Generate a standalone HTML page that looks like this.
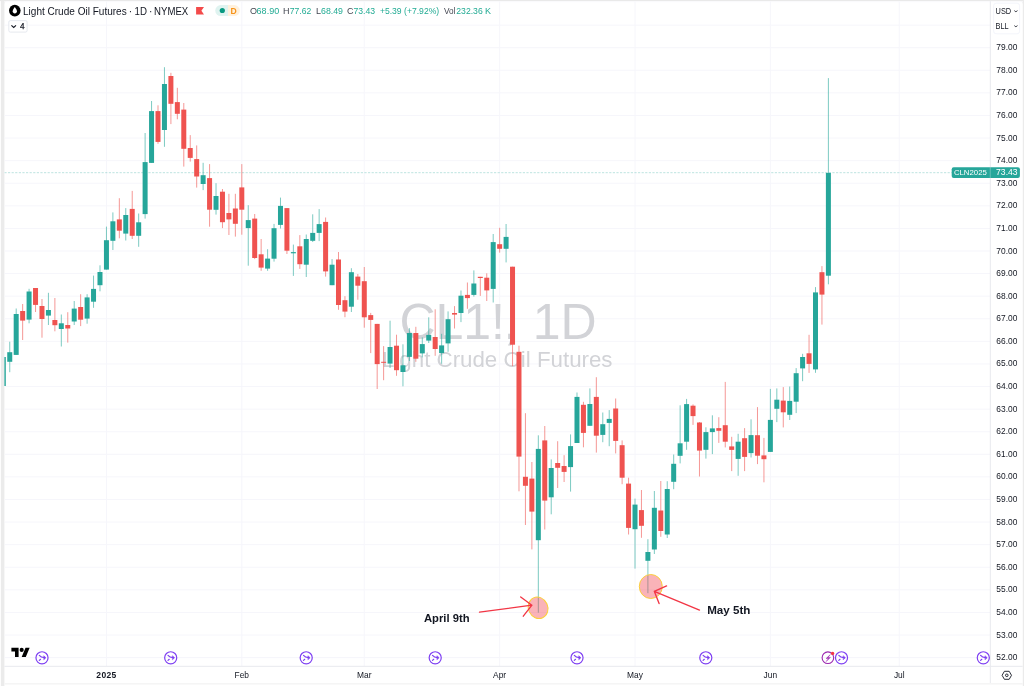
<!DOCTYPE html><html><head><meta charset="utf-8"><title>CL1! Light Crude Oil Futures</title>
<style>html,body{margin:0;padding:0;background:#fff;}body{width:1024px;height:686px;overflow:hidden;}svg{display:block;will-change:transform;}text{font-family:'Liberation Sans', Arial, sans-serif;}</style></head><body>
<svg width="1024" height="686" viewBox="0 0 1024 686">
<rect x="0" y="0" width="1024" height="686" fill="#ffffff"/>
<rect x="0.9" y="0" width="3.5" height="686" fill="#ebebeb"/>
<rect x="0" y="0" width="1024" height="1.1" fill="#e9e9e9"/>
<rect x="1022.8" y="0" width="1.2" height="686" fill="#ebebeb"/>
<rect x="4.4" y="683" width="1018.4" height="1.6" fill="#f5f5f5"/>
<path d="M4.4 1.1 H8 Q4.4 1.1 4.4 4.7 Z" fill="#ebebeb"/>
<path d="M1022.8 1.1 H1019.2 Q1022.8 1.1 1022.8 4.7 Z" fill="#ebebeb"/>
<rect x="4.4" y="1.2" width="1018.4" height="1" fill="#f9f9fc"/>
<defs><clipPath id="pane"><rect x="4.4" y="1.5" width="985.9" height="664.8"/></clipPath></defs>
<g clip-path="url(#pane)">
<rect x="4.4" y="657.1" width="985.9" height="1" fill="#f6f6fb"/>
<rect x="4.4" y="634.51" width="985.9" height="1" fill="#f6f6fb"/>
<rect x="4.4" y="611.92" width="985.9" height="1" fill="#f6f6fb"/>
<rect x="4.4" y="589.34" width="985.9" height="1" fill="#f6f6fb"/>
<rect x="4.4" y="566.75" width="985.9" height="1" fill="#f6f6fb"/>
<rect x="4.4" y="544.16" width="985.9" height="1" fill="#f6f6fb"/>
<rect x="4.4" y="521.57" width="985.9" height="1" fill="#f6f6fb"/>
<rect x="4.4" y="498.98" width="985.9" height="1" fill="#f6f6fb"/>
<rect x="4.4" y="476.39" width="985.9" height="1" fill="#f6f6fb"/>
<rect x="4.4" y="453.8" width="985.9" height="1" fill="#f6f6fb"/>
<rect x="4.4" y="431.21" width="985.9" height="1" fill="#f6f6fb"/>
<rect x="4.4" y="408.62" width="985.9" height="1" fill="#f6f6fb"/>
<rect x="4.4" y="386.03" width="985.9" height="1" fill="#f6f6fb"/>
<rect x="4.4" y="363.45" width="985.9" height="1" fill="#f6f6fb"/>
<rect x="4.4" y="340.86" width="985.9" height="1" fill="#f6f6fb"/>
<rect x="4.4" y="318.27" width="985.9" height="1" fill="#f6f6fb"/>
<rect x="4.4" y="295.68" width="985.9" height="1" fill="#f6f6fb"/>
<rect x="4.4" y="273.09" width="985.9" height="1" fill="#f6f6fb"/>
<rect x="4.4" y="250.5" width="985.9" height="1" fill="#f6f6fb"/>
<rect x="4.4" y="227.91" width="985.9" height="1" fill="#f6f6fb"/>
<rect x="4.4" y="205.32" width="985.9" height="1" fill="#f6f6fb"/>
<rect x="4.4" y="182.73" width="985.9" height="1" fill="#f6f6fb"/>
<rect x="4.4" y="160.14" width="985.9" height="1" fill="#f6f6fb"/>
<rect x="4.4" y="137.56" width="985.9" height="1" fill="#f6f6fb"/>
<rect x="4.4" y="114.97" width="985.9" height="1" fill="#f6f6fb"/>
<rect x="4.4" y="92.38" width="985.9" height="1" fill="#f6f6fb"/>
<rect x="4.4" y="69.79" width="985.9" height="1" fill="#f6f6fb"/>
<rect x="4.4" y="47.2" width="985.9" height="1" fill="#f6f6fb"/>
<rect x="4.4" y="24.61" width="985.9" height="1" fill="#f6f6fb"/>
<rect x="105.94" y="0" width="1" height="666.3" fill="#f6f6fb"/>
<rect x="241.3" y="0" width="1" height="666.3" fill="#f6f6fb"/>
<rect x="363.78" y="0" width="1" height="666.3" fill="#f6f6fb"/>
<rect x="499.14" y="0" width="1" height="666.3" fill="#f6f6fb"/>
<rect x="634.51" y="0" width="1" height="666.3" fill="#f6f6fb"/>
<rect x="769.87" y="0" width="1" height="666.3" fill="#f6f6fb"/>
<rect x="898.79" y="0" width="1" height="666.3" fill="#f6f6fb"/>
<text x="399.4" y="338.7" font-size="50" fill="#d2d3d7">CL1!<tspan dx="-1.6">,</tspan><tspan dx="1.6"> 1D</tspan></text>
<text x="382" y="367.2" font-size="22.3" fill="#d2d3d7">Light Crude Oil Futures</text>
<line x1="4.4" y1="172.7" x2="990.3" y2="172.7" stroke="#26a69a" stroke-width="1" stroke-dasharray="2.2 1.4" opacity="0.3"/>
<rect x="2.8" y="357" width="1" height="29" fill="#26a69a" opacity="0.6"/>
<rect x="0.8" y="357" width="5" height="29" fill="#26a69a"/>
<rect x="9.25" y="341.7" width="1" height="30.5" fill="#26a69a" opacity="0.6"/>
<rect x="7.25" y="352.2" width="5" height="9.6" fill="#26a69a"/>
<rect x="15.69" y="308.5" width="1" height="46.5" fill="#26a69a" opacity="0.6"/>
<rect x="13.69" y="314" width="5" height="40.9" fill="#26a69a"/>
<rect x="22.14" y="304" width="1" height="36" fill="#ef5350" opacity="0.6"/>
<rect x="20.14" y="311" width="5" height="9.6" fill="#ef5350"/>
<rect x="28.58" y="288.8" width="1" height="34.5" fill="#26a69a" opacity="0.6"/>
<rect x="26.58" y="291.5" width="5" height="28.1" fill="#26a69a"/>
<rect x="35.03" y="288" width="1" height="24" fill="#ef5350" opacity="0.6"/>
<rect x="33.03" y="288" width="5" height="16.9" fill="#ef5350"/>
<rect x="41.48" y="299" width="1" height="38.7" fill="#ef5350" opacity="0.6"/>
<rect x="39.48" y="306" width="5" height="13" fill="#ef5350"/>
<rect x="47.92" y="292.8" width="1" height="32.2" fill="#26a69a" opacity="0.6"/>
<rect x="45.92" y="310" width="5" height="5.6" fill="#26a69a"/>
<rect x="54.37" y="298" width="1" height="33.3" fill="#ef5350" opacity="0.6"/>
<rect x="52.37" y="320" width="5" height="5.2" fill="#ef5350"/>
<rect x="60.81" y="314.5" width="1" height="32" fill="#26a69a" opacity="0.6"/>
<rect x="58.81" y="323.3" width="5" height="5.7" fill="#26a69a"/>
<rect x="67.26" y="312.2" width="1" height="30.4" fill="#ef5350" opacity="0.6"/>
<rect x="65.26" y="325" width="5" height="3.5" fill="#ef5350"/>
<rect x="73.71" y="301" width="1" height="24" fill="#26a69a" opacity="0.6"/>
<rect x="71.71" y="308.6" width="5" height="12.9" fill="#26a69a"/>
<rect x="80.15" y="294.2" width="1" height="31.9" fill="#ef5350" opacity="0.6"/>
<rect x="78.15" y="307" width="5" height="12.7" fill="#ef5350"/>
<rect x="86.6" y="294.2" width="1" height="29.5" fill="#26a69a" opacity="0.6"/>
<rect x="84.6" y="297.4" width="5" height="21.2" fill="#26a69a"/>
<rect x="93.04" y="275.6" width="1" height="32.2" fill="#26a69a" opacity="0.6"/>
<rect x="91.04" y="288.9" width="5" height="12.8" fill="#26a69a"/>
<rect x="99.49" y="265.3" width="1" height="26" fill="#26a69a" opacity="0.6"/>
<rect x="97.49" y="272" width="5" height="13.2" fill="#26a69a"/>
<rect x="105.94" y="226.6" width="1" height="43" fill="#26a69a" opacity="0.6"/>
<rect x="103.94" y="240.2" width="5" height="29.4" fill="#26a69a"/>
<rect x="112.38" y="212.4" width="1" height="37.6" fill="#26a69a" opacity="0.6"/>
<rect x="110.38" y="221.3" width="5" height="19.5" fill="#26a69a"/>
<rect x="118.83" y="198.2" width="1" height="40.1" fill="#ef5350" opacity="0.6"/>
<rect x="116.83" y="219.4" width="5" height="11.3" fill="#ef5350"/>
<rect x="125.27" y="208.1" width="1" height="32.4" fill="#26a69a" opacity="0.6"/>
<rect x="123.27" y="215" width="5" height="18.6" fill="#26a69a"/>
<rect x="131.72" y="190.9" width="1" height="48.1" fill="#ef5350" opacity="0.6"/>
<rect x="129.72" y="208.9" width="5" height="26.9" fill="#ef5350"/>
<rect x="138.17" y="213.5" width="1" height="33.3" fill="#26a69a" opacity="0.6"/>
<rect x="136.17" y="222.3" width="5" height="13.5" fill="#26a69a"/>
<rect x="144.61" y="133" width="1" height="85.6" fill="#26a69a" opacity="0.6"/>
<rect x="142.61" y="162.1" width="5" height="52" fill="#26a69a"/>
<rect x="151.06" y="101" width="1" height="61.9" fill="#26a69a" opacity="0.6"/>
<rect x="149.06" y="111.1" width="5" height="51.8" fill="#26a69a"/>
<rect x="157.5" y="105.3" width="1" height="38.5" fill="#ef5350" opacity="0.6"/>
<rect x="155.5" y="111.1" width="5" height="30.8" fill="#ef5350"/>
<rect x="163.95" y="67.2" width="1" height="79.6" fill="#26a69a" opacity="0.6"/>
<rect x="161.95" y="84" width="5" height="46" fill="#26a69a"/>
<rect x="170.4" y="72.8" width="1" height="51.3" fill="#ef5350" opacity="0.6"/>
<rect x="168.4" y="76" width="5" height="27.8" fill="#ef5350"/>
<rect x="176.84" y="87.8" width="1" height="31.5" fill="#ef5350" opacity="0.6"/>
<rect x="174.84" y="102.1" width="5" height="11.7" fill="#ef5350"/>
<rect x="183.29" y="103" width="1" height="63.6" fill="#ef5350" opacity="0.6"/>
<rect x="181.29" y="109.6" width="5" height="39.2" fill="#ef5350"/>
<rect x="189.73" y="135.1" width="1" height="26.5" fill="#ef5350" opacity="0.6"/>
<rect x="187.73" y="148" width="5" height="9.9" fill="#ef5350"/>
<rect x="196.18" y="145.4" width="1" height="42.2" fill="#ef5350" opacity="0.6"/>
<rect x="194.18" y="159.1" width="5" height="17.4" fill="#ef5350"/>
<rect x="202.63" y="162.8" width="1" height="27.3" fill="#26a69a" opacity="0.6"/>
<rect x="200.63" y="175.2" width="5" height="8.8" fill="#26a69a"/>
<rect x="209.07" y="164.1" width="1" height="62.6" fill="#ef5350" opacity="0.6"/>
<rect x="207.07" y="178.1" width="5" height="31.6" fill="#ef5350"/>
<rect x="215.52" y="183.2" width="1" height="31.4" fill="#26a69a" opacity="0.6"/>
<rect x="213.52" y="196" width="5" height="13.8" fill="#26a69a"/>
<rect x="221.96" y="189" width="1" height="39.1" fill="#ef5350" opacity="0.6"/>
<rect x="219.96" y="191.7" width="5" height="30.5" fill="#ef5350"/>
<rect x="228.41" y="193.8" width="1" height="41.2" fill="#ef5350" opacity="0.6"/>
<rect x="226.41" y="213" width="5" height="6.4" fill="#ef5350"/>
<rect x="234.86" y="193.8" width="1" height="42.8" fill="#ef5350" opacity="0.6"/>
<rect x="232.86" y="208.5" width="5" height="15.3" fill="#ef5350"/>
<rect x="241.3" y="164.1" width="1" height="70.6" fill="#ef5350" opacity="0.6"/>
<rect x="239.3" y="187.4" width="5" height="22.3" fill="#ef5350"/>
<rect x="247.75" y="205.2" width="1" height="60.5" fill="#26a69a" opacity="0.6"/>
<rect x="245.75" y="220.1" width="5" height="8" fill="#26a69a"/>
<rect x="254.19" y="214" width="1" height="45.1" fill="#ef5350" opacity="0.6"/>
<rect x="252.19" y="218.6" width="5" height="39.4" fill="#ef5350"/>
<rect x="260.64" y="239" width="1" height="31.8" fill="#ef5350" opacity="0.6"/>
<rect x="258.64" y="254.3" width="5" height="13.3" fill="#ef5350"/>
<rect x="267.09" y="249.2" width="1" height="21.6" fill="#26a69a" opacity="0.6"/>
<rect x="265.09" y="258.6" width="5" height="10" fill="#26a69a"/>
<rect x="273.53" y="223.9" width="1" height="37.7" fill="#26a69a" opacity="0.6"/>
<rect x="271.53" y="228.2" width="5" height="30.5" fill="#26a69a"/>
<rect x="279.98" y="197.6" width="1" height="30.9" fill="#26a69a" opacity="0.6"/>
<rect x="277.98" y="205.9" width="5" height="19" fill="#26a69a"/>
<rect x="286.42" y="208.1" width="1" height="45.9" fill="#ef5350" opacity="0.6"/>
<rect x="284.42" y="208.1" width="5" height="42.6" fill="#ef5350"/>
<rect x="292.87" y="244.6" width="1" height="31.3" fill="#26a69a" opacity="0.6"/>
<rect x="290.87" y="252.1" width="5" height="1.2" fill="#26a69a"/>
<rect x="299.32" y="235.1" width="1" height="33.8" fill="#ef5350" opacity="0.6"/>
<rect x="297.32" y="246.3" width="5" height="17.9" fill="#ef5350"/>
<rect x="305.76" y="234.5" width="1" height="42.5" fill="#26a69a" opacity="0.6"/>
<rect x="303.76" y="239" width="5" height="25.7" fill="#26a69a"/>
<rect x="312.21" y="214.3" width="1" height="27.7" fill="#26a69a" opacity="0.6"/>
<rect x="310.21" y="232.9" width="5" height="7.9" fill="#26a69a"/>
<rect x="318.65" y="209.1" width="1" height="32" fill="#26a69a" opacity="0.6"/>
<rect x="316.65" y="224.1" width="5" height="8.8" fill="#26a69a"/>
<rect x="325.1" y="217.5" width="1" height="59.1" fill="#ef5350" opacity="0.6"/>
<rect x="323.1" y="221.9" width="5" height="49.5" fill="#ef5350"/>
<rect x="331.55" y="259.1" width="1" height="26.1" fill="#26a69a" opacity="0.6"/>
<rect x="329.55" y="264.7" width="5" height="20.5" fill="#26a69a"/>
<rect x="337.99" y="252" width="1" height="57.8" fill="#ef5350" opacity="0.6"/>
<rect x="335.99" y="259.5" width="5" height="45.5" fill="#ef5350"/>
<rect x="344.44" y="296.2" width="1" height="21" fill="#ef5350" opacity="0.6"/>
<rect x="342.44" y="300.2" width="5" height="11.4" fill="#ef5350"/>
<rect x="350.88" y="268.2" width="1" height="43.8" fill="#26a69a" opacity="0.6"/>
<rect x="348.88" y="272.2" width="5" height="34.5" fill="#26a69a"/>
<rect x="357.33" y="274" width="1" height="25.7" fill="#ef5350" opacity="0.6"/>
<rect x="355.33" y="276.6" width="5" height="9.1" fill="#ef5350"/>
<rect x="363.78" y="267" width="1" height="60.7" fill="#ef5350" opacity="0.6"/>
<rect x="361.78" y="281.2" width="5" height="36.1" fill="#ef5350"/>
<rect x="370.22" y="312.9" width="1" height="40.2" fill="#ef5350" opacity="0.6"/>
<rect x="368.22" y="315.1" width="5" height="4.8" fill="#ef5350"/>
<rect x="376.67" y="323.9" width="1" height="65.1" fill="#ef5350" opacity="0.6"/>
<rect x="374.67" y="323.9" width="5" height="40.2" fill="#ef5350"/>
<rect x="383.11" y="346.1" width="1" height="34.1" fill="#ef5350" opacity="0.6"/>
<rect x="381.11" y="361.8" width="5" height="1" fill="#ef5350"/>
<rect x="389.56" y="320.7" width="1" height="47.3" fill="#26a69a" opacity="0.6"/>
<rect x="387.56" y="347" width="5" height="16.6" fill="#26a69a"/>
<rect x="396.01" y="334.7" width="1" height="41.1" fill="#ef5350" opacity="0.6"/>
<rect x="394.01" y="345.7" width="5" height="24.5" fill="#ef5350"/>
<rect x="402.45" y="344.3" width="1" height="42" fill="#26a69a" opacity="0.6"/>
<rect x="400.45" y="365.3" width="5" height="6.7" fill="#26a69a"/>
<rect x="408.9" y="328.2" width="1" height="32.8" fill="#26a69a" opacity="0.6"/>
<rect x="406.9" y="333" width="5" height="23.9" fill="#26a69a"/>
<rect x="415.34" y="326.8" width="1" height="35" fill="#ef5350" opacity="0.6"/>
<rect x="413.34" y="333" width="5" height="25.7" fill="#ef5350"/>
<rect x="421.79" y="337.4" width="1" height="20" fill="#26a69a" opacity="0.6"/>
<rect x="419.79" y="344.1" width="5" height="9.3" fill="#26a69a"/>
<rect x="428.24" y="317.3" width="1" height="25.7" fill="#26a69a" opacity="0.6"/>
<rect x="426.24" y="334.9" width="5" height="5.7" fill="#26a69a"/>
<rect x="434.68" y="309.3" width="1" height="46.5" fill="#ef5350" opacity="0.6"/>
<rect x="432.68" y="337" width="5" height="12" fill="#ef5350"/>
<rect x="441.13" y="333.8" width="1" height="30" fill="#26a69a" opacity="0.6"/>
<rect x="439.13" y="345.4" width="5" height="7.7" fill="#26a69a"/>
<rect x="447.57" y="311.4" width="1" height="40.4" fill="#26a69a" opacity="0.6"/>
<rect x="445.57" y="319.2" width="5" height="24.2" fill="#26a69a"/>
<rect x="454.02" y="306.1" width="1" height="22.4" fill="#ef5350" opacity="0.6"/>
<rect x="452.02" y="313" width="5" height="1.6" fill="#ef5350"/>
<rect x="460.47" y="290.5" width="1" height="31.6" fill="#26a69a" opacity="0.6"/>
<rect x="458.47" y="295.7" width="5" height="17.3" fill="#26a69a"/>
<rect x="466.91" y="282.5" width="1" height="26.3" fill="#ef5350" opacity="0.6"/>
<rect x="464.91" y="294.9" width="5" height="3.2" fill="#ef5350"/>
<rect x="473.36" y="270.4" width="1" height="26.2" fill="#26a69a" opacity="0.6"/>
<rect x="471.36" y="283.5" width="5" height="11.4" fill="#26a69a"/>
<rect x="479.8" y="276.8" width="1" height="19.1" fill="#ef5350" opacity="0.6"/>
<rect x="477.8" y="276.8" width="5" height="1.2" fill="#ef5350"/>
<rect x="486.25" y="273.3" width="1" height="27.7" fill="#ef5350" opacity="0.6"/>
<rect x="484.25" y="277.7" width="5" height="12.7" fill="#ef5350"/>
<rect x="492.7" y="234" width="1" height="68.5" fill="#26a69a" opacity="0.6"/>
<rect x="490.7" y="242.1" width="5" height="46.8" fill="#26a69a"/>
<rect x="499.14" y="227.8" width="1" height="24.8" fill="#ef5350" opacity="0.6"/>
<rect x="497.14" y="244.2" width="5" height="4.6" fill="#ef5350"/>
<rect x="505.59" y="224" width="1" height="38.4" fill="#26a69a" opacity="0.6"/>
<rect x="503.59" y="236.9" width="5" height="11.9" fill="#26a69a"/>
<rect x="512.03" y="266.7" width="1" height="99.4" fill="#ef5350" opacity="0.6"/>
<rect x="510.03" y="266.7" width="5" height="78" fill="#ef5350"/>
<rect x="518.48" y="345.7" width="1" height="145.6" fill="#ef5350" opacity="0.6"/>
<rect x="516.48" y="351.8" width="5" height="104.8" fill="#ef5350"/>
<rect x="524.93" y="413.2" width="1" height="111.8" fill="#ef5350" opacity="0.6"/>
<rect x="522.93" y="476.8" width="5" height="9" fill="#ef5350"/>
<rect x="531.37" y="462" width="1" height="87.4" fill="#ef5350" opacity="0.6"/>
<rect x="529.37" y="478.6" width="5" height="33" fill="#ef5350"/>
<rect x="537.82" y="435.3" width="1" height="177.4" fill="#26a69a" opacity="0.6"/>
<rect x="535.82" y="448.9" width="5" height="91.3" fill="#26a69a"/>
<rect x="544.26" y="426" width="1" height="103.5" fill="#ef5350" opacity="0.6"/>
<rect x="542.26" y="440.4" width="5" height="60.2" fill="#ef5350"/>
<rect x="550.71" y="459.4" width="1" height="54.9" fill="#26a69a" opacity="0.6"/>
<rect x="548.71" y="468" width="5" height="29.3" fill="#26a69a"/>
<rect x="557.16" y="441.2" width="1" height="46.8" fill="#ef5350" opacity="0.6"/>
<rect x="555.16" y="463" width="5" height="4.8" fill="#ef5350"/>
<rect x="563.6" y="455.2" width="1" height="26.8" fill="#ef5350" opacity="0.6"/>
<rect x="561.6" y="466" width="5" height="5.9" fill="#ef5350"/>
<rect x="570.05" y="434.4" width="1" height="57.2" fill="#26a69a" opacity="0.6"/>
<rect x="568.05" y="446.1" width="5" height="21" fill="#26a69a"/>
<rect x="576.49" y="392.5" width="1" height="50.5" fill="#26a69a" opacity="0.6"/>
<rect x="574.49" y="396.9" width="5" height="46.1" fill="#26a69a"/>
<rect x="582.94" y="401.8" width="1" height="45.5" fill="#ef5350" opacity="0.6"/>
<rect x="580.94" y="404.8" width="5" height="28.1" fill="#ef5350"/>
<rect x="589.39" y="388.4" width="1" height="37.4" fill="#26a69a" opacity="0.6"/>
<rect x="587.39" y="404" width="5" height="21.8" fill="#26a69a"/>
<rect x="595.83" y="377.2" width="1" height="75.4" fill="#ef5350" opacity="0.6"/>
<rect x="593.83" y="396.9" width="5" height="38.8" fill="#ef5350"/>
<rect x="602.28" y="412.5" width="1" height="29.7" fill="#26a69a" opacity="0.6"/>
<rect x="600.28" y="424.2" width="5" height="10.7" fill="#26a69a"/>
<rect x="608.72" y="410.1" width="1" height="36.1" fill="#26a69a" opacity="0.6"/>
<rect x="606.72" y="418.9" width="5" height="4" fill="#26a69a"/>
<rect x="615.17" y="398.5" width="1" height="54.9" fill="#ef5350" opacity="0.6"/>
<rect x="613.17" y="408.5" width="5" height="32.4" fill="#ef5350"/>
<rect x="621.62" y="440.4" width="1" height="43.8" fill="#ef5350" opacity="0.6"/>
<rect x="619.62" y="445.2" width="5" height="32.5" fill="#ef5350"/>
<rect x="628.06" y="477.7" width="1" height="56.8" fill="#ef5350" opacity="0.6"/>
<rect x="626.06" y="483.6" width="5" height="44.3" fill="#ef5350"/>
<rect x="634.51" y="498.6" width="1" height="70" fill="#26a69a" opacity="0.6"/>
<rect x="632.51" y="504.6" width="5" height="24.6" fill="#26a69a"/>
<rect x="640.95" y="490" width="1" height="47.8" fill="#ef5350" opacity="0.6"/>
<rect x="638.95" y="510.1" width="5" height="15.7" fill="#ef5350"/>
<rect x="647.4" y="539.2" width="1" height="54" fill="#26a69a" opacity="0.6"/>
<rect x="645.4" y="552" width="5" height="8.8" fill="#26a69a"/>
<rect x="653.85" y="491" width="1" height="63" fill="#26a69a" opacity="0.6"/>
<rect x="651.85" y="507.8" width="5" height="41.7" fill="#26a69a"/>
<rect x="660.29" y="481" width="1" height="55.8" fill="#ef5350" opacity="0.6"/>
<rect x="658.29" y="510.5" width="5" height="20.5" fill="#ef5350"/>
<rect x="666.74" y="481.2" width="1" height="56.8" fill="#26a69a" opacity="0.6"/>
<rect x="664.74" y="489" width="5" height="45.5" fill="#26a69a"/>
<rect x="673.18" y="454.5" width="1" height="34.7" fill="#26a69a" opacity="0.6"/>
<rect x="671.18" y="463.8" width="5" height="18" fill="#26a69a"/>
<rect x="679.63" y="405.3" width="1" height="58.1" fill="#26a69a" opacity="0.6"/>
<rect x="677.63" y="443.3" width="5" height="12.5" fill="#26a69a"/>
<rect x="686.08" y="398.9" width="1" height="50.9" fill="#26a69a" opacity="0.6"/>
<rect x="684.08" y="404.1" width="5" height="37.6" fill="#26a69a"/>
<rect x="692.52" y="404.4" width="1" height="20.5" fill="#ef5350" opacity="0.6"/>
<rect x="690.52" y="405.7" width="5" height="10.4" fill="#ef5350"/>
<rect x="698.97" y="422" width="1" height="54.5" fill="#ef5350" opacity="0.6"/>
<rect x="696.97" y="422.5" width="5" height="28.1" fill="#ef5350"/>
<rect x="705.41" y="427.3" width="1" height="31.3" fill="#26a69a" opacity="0.6"/>
<rect x="703.41" y="432.1" width="5" height="17.7" fill="#26a69a"/>
<rect x="711.86" y="415.3" width="1" height="38.8" fill="#26a69a" opacity="0.6"/>
<rect x="709.86" y="428.4" width="5" height="3.7" fill="#26a69a"/>
<rect x="718.31" y="417.2" width="1" height="25.7" fill="#ef5350" opacity="0.6"/>
<rect x="716.31" y="428.1" width="5" height="2.7" fill="#ef5350"/>
<rect x="724.75" y="381.9" width="1" height="65.5" fill="#ef5350" opacity="0.6"/>
<rect x="722.75" y="425.2" width="5" height="16.5" fill="#ef5350"/>
<rect x="731.2" y="436.8" width="1" height="34.3" fill="#ef5350" opacity="0.6"/>
<rect x="729.2" y="446.4" width="5" height="3.5" fill="#ef5350"/>
<rect x="737.64" y="433.8" width="1" height="42" fill="#26a69a" opacity="0.6"/>
<rect x="735.64" y="441.7" width="5" height="17.2" fill="#26a69a"/>
<rect x="744.09" y="428.1" width="1" height="43" fill="#ef5350" opacity="0.6"/>
<rect x="742.09" y="438.2" width="5" height="18.7" fill="#ef5350"/>
<rect x="750.54" y="419.3" width="1" height="38.2" fill="#26a69a" opacity="0.6"/>
<rect x="748.54" y="435.1" width="5" height="18" fill="#26a69a"/>
<rect x="756.98" y="407.1" width="1" height="57" fill="#ef5350" opacity="0.6"/>
<rect x="754.98" y="435.2" width="5" height="20.5" fill="#ef5350"/>
<rect x="763.43" y="437.9" width="1" height="44.4" fill="#ef5350" opacity="0.6"/>
<rect x="761.43" y="455.4" width="5" height="3.8" fill="#ef5350"/>
<rect x="769.87" y="388.9" width="1" height="63" fill="#26a69a" opacity="0.6"/>
<rect x="767.87" y="419.9" width="5" height="32" fill="#26a69a"/>
<rect x="776.32" y="388.4" width="1" height="33.7" fill="#26a69a" opacity="0.6"/>
<rect x="774.32" y="399.7" width="5" height="9.1" fill="#26a69a"/>
<rect x="782.77" y="387.1" width="1" height="40.3" fill="#ef5350" opacity="0.6"/>
<rect x="780.77" y="400.6" width="5" height="11.7" fill="#ef5350"/>
<rect x="789.21" y="386.5" width="1" height="33.5" fill="#26a69a" opacity="0.6"/>
<rect x="787.21" y="400.9" width="5" height="13.9" fill="#26a69a"/>
<rect x="795.66" y="368.1" width="1" height="45" fill="#26a69a" opacity="0.6"/>
<rect x="793.66" y="373.2" width="5" height="28.5" fill="#26a69a"/>
<rect x="802.1" y="353.8" width="1" height="27.4" fill="#26a69a" opacity="0.6"/>
<rect x="800.1" y="357" width="5" height="11.4" fill="#26a69a"/>
<rect x="808.55" y="334.8" width="1" height="38.1" fill="#ef5350" opacity="0.6"/>
<rect x="806.55" y="353.3" width="5" height="10.6" fill="#ef5350"/>
<rect x="815" y="287.1" width="1" height="85.7" fill="#26a69a" opacity="0.6"/>
<rect x="813" y="292.4" width="5" height="77" fill="#26a69a"/>
<rect x="821.44" y="266.1" width="1" height="58.5" fill="#ef5350" opacity="0.6"/>
<rect x="819.44" y="272.2" width="5" height="22.4" fill="#ef5350"/>
<rect x="827.89" y="78.1" width="1" height="206.2" fill="#26a69a" opacity="0.6"/>
<rect x="825.89" y="172.9" width="5" height="102.8" fill="#26a69a"/>
</g>
<ellipse transform="rotate(-25 538.1 607.8)" cx="538.1" cy="607.8" rx="9.7" ry="10.9" fill="#f23645" fill-opacity="0.38" stroke="#fbcf3a" stroke-width="1"/>
<path d="M479.5 612.1 L531.9 605.2 M520.7 597 L531.9 605.2 L523.3 616.2" fill="none" stroke="#f23645" stroke-width="1.35" stroke-linecap="round" stroke-linejoin="round"/>
<text x="424.0" y="622.2" font-size="11.3" font-weight="bold" fill="#131722" textLength="45.6" lengthAdjust="spacingAndGlyphs">April 9th</text>
<ellipse cx="650.8" cy="586.5" rx="11.5" ry="12" fill="#f23645" fill-opacity="0.38" stroke="#fbcf3a" stroke-width="1"/>
<path d="M699.5 610.1 L654.3 591.3 M666.6 585.9 L654.3 591.3 L659.1 603.6" fill="none" stroke="#f23645" stroke-width="1.35" stroke-linecap="round" stroke-linejoin="round"/>
<text x="707.2" y="614.3" font-size="11.1" font-weight="bold" fill="#131722" textLength="43.2" lengthAdjust="spacingAndGlyphs">May 5th</text>
<circle cx="14.8" cy="10.6" r="5.8" fill="#000"/>
<path d="M14.8 6.9 C13.6 8.6 12.7 9.9 12.7 11.3 C12.7 12.6 13.6 13.5 14.8 13.5 C16 13.5 16.9 12.6 16.9 11.3 C16.9 9.9 16 8.6 14.8 6.9 Z" fill="#fff"/>
<text y="15" font-size="10.2" fill="#131722"><tspan x="23" textLength="103.7" lengthAdjust="spacingAndGlyphs">Light Crude Oil Futures</tspan><tspan x="128.7">·</tspan><tspan x="134.6" textLength="12.4" lengthAdjust="spacingAndGlyphs">1D</tspan><tspan x="149.1">·</tspan><tspan x="154.1" textLength="34.1" lengthAdjust="spacingAndGlyphs">NYMEX</tspan></text>
<path d="M196.1 7 H204 L201.4 10.7 L204 14.4 H196.1 Z" fill="#f34a4a"/>
<path d="M220.8 5 H228 V16.1 H220.8 A5.55 5.55 0 0 1 220.8 5 Z" fill="#dff3f0"/>
<path d="M228 5 H234.3 A5.55 5.55 0 0 1 234.3 16.1 H228 Z" fill="#fff1dd"/>
<circle cx="222.3" cy="10.5" r="2.6" fill="#089981"/>
<text x="230.6" y="13.8" font-size="8.6" font-weight="bold" fill="#f7931a">D</text>
<text x="249.9" y="14.1" font-size="9" fill="#434651">O</text>
<text x="256.6" y="14.1" font-size="9" fill="#22ab94" textLength="22.6" lengthAdjust="spacingAndGlyphs">68.90</text>
<text x="283" y="14.1" font-size="9" fill="#434651">H</text>
<text x="289.8" y="14.1" font-size="9" fill="#22ab94" textLength="21.5" lengthAdjust="spacingAndGlyphs">77.62</text>
<text x="316.1" y="14.1" font-size="9" fill="#434651">L</text>
<text x="321" y="14.1" font-size="9" fill="#22ab94" textLength="22" lengthAdjust="spacingAndGlyphs">68.49</text>
<text x="347" y="14.1" font-size="9" fill="#434651">C</text>
<text x="353.4" y="14.1" font-size="9" fill="#22ab94" textLength="21.7" lengthAdjust="spacingAndGlyphs">73.43</text>
<text x="379.9" y="14.1" font-size="9" fill="#22ab94" textLength="59.3" lengthAdjust="spacingAndGlyphs">+5.39 (+7.92%)</text>
<text x="443.9" y="14.1" font-size="9" fill="#434651" textLength="11.4" lengthAdjust="spacingAndGlyphs">Vol</text>
<text x="456.3" y="14.1" font-size="9" fill="#22ab94" textLength="26.4" lengthAdjust="spacingAndGlyphs">232.36</text>
<text x="484.9" y="14.1" font-size="9" fill="#22ab94">K</text>
<rect x="8.8" y="20.6" width="18.3" height="11.5" rx="1.5" fill="#fff" stroke="#e0e3eb" stroke-width="0.8"/>
<path d="M11.4 25.4 L13.7 27.5 L16 25.4" fill="none" stroke="#131722" stroke-width="1.15"/>
<text x="20" y="29.1" font-size="8.2" fill="#131722" stroke="#131722" stroke-width="0.25">4</text>
<rect x="989.8" y="1.2" width="1" height="681.8" fill="#e8e9ee"/>
<text x="1017.3" y="660.1" text-anchor="end" font-size="8.4" fill="#131722">52.00</text>
<text x="1017.3" y="637.51" text-anchor="end" font-size="8.4" fill="#131722">53.00</text>
<text x="1017.3" y="614.92" text-anchor="end" font-size="8.4" fill="#131722">54.00</text>
<text x="1017.3" y="592.34" text-anchor="end" font-size="8.4" fill="#131722">55.00</text>
<text x="1017.3" y="569.75" text-anchor="end" font-size="8.4" fill="#131722">56.00</text>
<text x="1017.3" y="547.16" text-anchor="end" font-size="8.4" fill="#131722">57.00</text>
<text x="1017.3" y="524.57" text-anchor="end" font-size="8.4" fill="#131722">58.00</text>
<text x="1017.3" y="501.98" text-anchor="end" font-size="8.4" fill="#131722">59.00</text>
<text x="1017.3" y="479.39" text-anchor="end" font-size="8.4" fill="#131722">60.00</text>
<text x="1017.3" y="456.8" text-anchor="end" font-size="8.4" fill="#131722">61.00</text>
<text x="1017.3" y="434.21" text-anchor="end" font-size="8.4" fill="#131722">62.00</text>
<text x="1017.3" y="411.62" text-anchor="end" font-size="8.4" fill="#131722">63.00</text>
<text x="1017.3" y="389.03" text-anchor="end" font-size="8.4" fill="#131722">64.00</text>
<text x="1017.3" y="366.45" text-anchor="end" font-size="8.4" fill="#131722">65.00</text>
<text x="1017.3" y="343.86" text-anchor="end" font-size="8.4" fill="#131722">66.00</text>
<text x="1017.3" y="321.27" text-anchor="end" font-size="8.4" fill="#131722">67.00</text>
<text x="1017.3" y="298.68" text-anchor="end" font-size="8.4" fill="#131722">68.00</text>
<text x="1017.3" y="276.09" text-anchor="end" font-size="8.4" fill="#131722">69.00</text>
<text x="1017.3" y="253.5" text-anchor="end" font-size="8.4" fill="#131722">70.00</text>
<text x="1017.3" y="230.91" text-anchor="end" font-size="8.4" fill="#131722">71.00</text>
<text x="1017.3" y="208.32" text-anchor="end" font-size="8.4" fill="#131722">72.00</text>
<text x="1017.3" y="185.73" text-anchor="end" font-size="8.4" fill="#131722">73.00</text>
<text x="1017.3" y="163.14" text-anchor="end" font-size="8.4" fill="#131722">74.00</text>
<text x="1017.3" y="140.56" text-anchor="end" font-size="8.4" fill="#131722">75.00</text>
<text x="1017.3" y="117.97" text-anchor="end" font-size="8.4" fill="#131722">76.00</text>
<text x="1017.3" y="95.38" text-anchor="end" font-size="8.4" fill="#131722">77.00</text>
<text x="1017.3" y="72.79" text-anchor="end" font-size="8.4" fill="#131722">78.00</text>
<text x="1017.3" y="50.2" text-anchor="end" font-size="8.4" fill="#131722">79.00</text>
<rect x="993.6" y="3.2" width="26" height="30.6" rx="2.5" fill="#fff" stroke="#f0f3fa" stroke-width="0.8"/>
<text x="995.6" y="14" font-size="8.3" fill="#131722" textLength="15.6" lengthAdjust="spacingAndGlyphs">USD</text>
<text x="995.6" y="28.9" font-size="8.3" fill="#131722" textLength="13.1" lengthAdjust="spacingAndGlyphs">BLL</text>
<path d="M1014.3 10.6 L1015.9 11.8 L1017.5 10.6 M1014.3 25.6 L1015.9 26.8 L1017.5 25.6" fill="none" stroke="#131722" stroke-width="0.8"/>
<rect x="951.7" y="167.2" width="68.2" height="10.8" rx="2" fill="#26a69a"/>
<rect x="989.8" y="167.2" width="0.8" height="10.8" fill="#ffffff" opacity="0.35"/>
<text x="953.9" y="175.1" font-size="8" fill="#fff" textLength="33" lengthAdjust="spacingAndGlyphs">CLN2025</text>
<text x="1017.6" y="175.3" text-anchor="end" font-size="8.6" fill="#fff">73.43</text>
<rect x="4.4" y="665.8" width="1018.2" height="1" fill="#e8e9ee"/>
<text x="96.3" y="678.2" font-size="8.5" font-weight="bold" fill="#131722" textLength="20" lengthAdjust="spacing">2025</text>
<text x="241.8" y="678.2" text-anchor="middle" font-size="8.4"  fill="#131722">Feb</text>
<text x="364.28" y="678.2" text-anchor="middle" font-size="8.4"  fill="#131722">Mar</text>
<text x="499.64" y="678.2" text-anchor="middle" font-size="8.4"  fill="#131722">Apr</text>
<text x="635.01" y="678.2" text-anchor="middle" font-size="8.4"  fill="#131722">May</text>
<text x="770.37" y="678.2" text-anchor="middle" font-size="8.4"  fill="#131722">Jun</text>
<text x="899.29" y="678.2" text-anchor="middle" font-size="8.4"  fill="#131722">Jul</text>
<g transform="translate(1006.8 675.3)" fill="none" stroke="#131722" stroke-width="0.9"><path d="M-2.4 -4 H2.4 L4.7 0 L2.4 4 H-2.4 L-4.7 0 Z"/><circle r="1.3"/></g>
<g transform="translate(11.4 645.8) scale(0.514)" fill="#000"><path d="M14 22H7V11H0V4h14v18zM28 22h-8l7.5-18h8L28 22z"/><circle cx="20" cy="8" r="4"/></g>
<g transform="translate(42 657.8)" fill="none" stroke="#7e3ff2" stroke-width="1.2" stroke-linecap="round"><circle r="6.05"/><path d="M-2.7 -2.4 Q-1 -0.2 2.3 -0.1 M-2.7 2.6 L-1.5 1.5"/><path d="M2 -1.8 L3.9 -0.1 L2 1.7 Z" fill="#7e3ff2" stroke="#7e3ff2" stroke-width="0.6" stroke-linejoin="round"/></g>
<g transform="translate(170.7 657.8)" fill="none" stroke="#7e3ff2" stroke-width="1.2" stroke-linecap="round"><circle r="6.05"/><path d="M-2.7 -2.4 Q-1 -0.2 2.3 -0.1 M-2.7 2.6 L-1.5 1.5"/><path d="M2 -1.8 L3.9 -0.1 L2 1.7 Z" fill="#7e3ff2" stroke="#7e3ff2" stroke-width="0.6" stroke-linejoin="round"/></g>
<g transform="translate(306.2 657.8)" fill="none" stroke="#7e3ff2" stroke-width="1.2" stroke-linecap="round"><circle r="6.05"/><path d="M-2.7 -2.4 Q-1 -0.2 2.3 -0.1 M-2.7 2.6 L-1.5 1.5"/><path d="M2 -1.8 L3.9 -0.1 L2 1.7 Z" fill="#7e3ff2" stroke="#7e3ff2" stroke-width="0.6" stroke-linejoin="round"/></g>
<g transform="translate(435.2 657.8)" fill="none" stroke="#7e3ff2" stroke-width="1.2" stroke-linecap="round"><circle r="6.05"/><path d="M-2.7 -2.4 Q-1 -0.2 2.3 -0.1 M-2.7 2.6 L-1.5 1.5"/><path d="M2 -1.8 L3.9 -0.1 L2 1.7 Z" fill="#7e3ff2" stroke="#7e3ff2" stroke-width="0.6" stroke-linejoin="round"/></g>
<g transform="translate(577 657.8)" fill="none" stroke="#7e3ff2" stroke-width="1.2" stroke-linecap="round"><circle r="6.05"/><path d="M-2.7 -2.4 Q-1 -0.2 2.3 -0.1 M-2.7 2.6 L-1.5 1.5"/><path d="M2 -1.8 L3.9 -0.1 L2 1.7 Z" fill="#7e3ff2" stroke="#7e3ff2" stroke-width="0.6" stroke-linejoin="round"/></g>
<g transform="translate(705.8 657.8)" fill="none" stroke="#7e3ff2" stroke-width="1.2" stroke-linecap="round"><circle r="6.05"/><path d="M-2.7 -2.4 Q-1 -0.2 2.3 -0.1 M-2.7 2.6 L-1.5 1.5"/><path d="M2 -1.8 L3.9 -0.1 L2 1.7 Z" fill="#7e3ff2" stroke="#7e3ff2" stroke-width="0.6" stroke-linejoin="round"/></g>
<g transform="translate(841.5 657.8)" fill="none" stroke="#7e3ff2" stroke-width="1.2" stroke-linecap="round"><circle r="6.05"/><path d="M-2.7 -2.4 Q-1 -0.2 2.3 -0.1 M-2.7 2.6 L-1.5 1.5"/><path d="M2 -1.8 L3.9 -0.1 L2 1.7 Z" fill="#7e3ff2" stroke="#7e3ff2" stroke-width="0.6" stroke-linejoin="round"/></g>
<g transform="translate(983.3 657.8)" fill="none" stroke="#7e3ff2" stroke-width="1.2" stroke-linecap="round"><circle r="6.05"/><path d="M-2.7 -2.4 Q-1 -0.2 2.3 -0.1 M-2.7 2.6 L-1.5 1.5"/><path d="M2 -1.8 L3.9 -0.1 L2 1.7 Z" fill="#7e3ff2" stroke="#7e3ff2" stroke-width="0.6" stroke-linejoin="round"/></g>
<g transform="translate(827.9 657.7)"><circle r="5.8" fill="none" stroke="#9c27b0" stroke-width="1.1"/><path d="M2.4 -3.1 L-1.9 0.9 L0.7 0.9 L-1.9 3.9 L2.6 -0.3 L0.1 -0.3 Z" fill="#9c27b0" stroke="#9c27b0" stroke-width="0.4" stroke-linejoin="round"/></g>
<circle cx="832.6" cy="653.4" r="1.7" fill="#f23645"/>
</svg></body></html>
